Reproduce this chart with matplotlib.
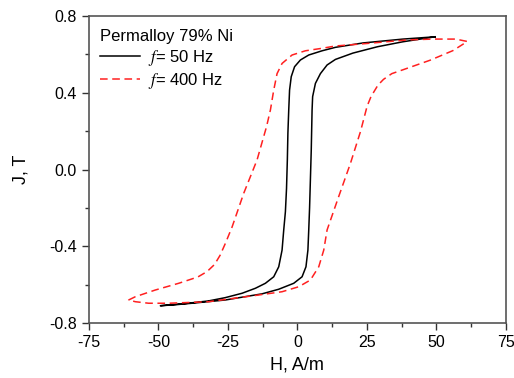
import matplotlib
matplotlib.use("Agg")
import matplotlib.pyplot as plt
from matplotlib.ticker import MultipleLocator, FormatStrFormatter

plt.rcParams['font.family'] = ['Liberation Sans', 'DejaVu Sans']
plt.rcParams['mathtext.fontset'] = 'stix'
plt.rcParams['axes.unicode_minus'] = False

# 50 Hz loop: descending branch (from +Hmax) and ascending branch (from -Hmax)
H50_down = [49.6, 38, 23.7, 13.7, 8.9, 4.1, 1.1, -1.0, -2.2, -2.8, -3.1, -3.4, -3.6, -3.9, -4.3, -4.9,
            -5.5, -6.7, -8.5, -11.5, -15.1, -19.9, -26, -32, -40, -49.3]
J50_down = [0.692, 0.68, 0.66, 0.637, 0.619, 0.597, 0.571, 0.536, 0.484, 0.414, 0.31, 0.19, 0.05, -0.10, -0.22, -0.315,
            -0.42, -0.507, -0.559, -0.593, -0.619, -0.645, -0.668, -0.685, -0.698, -0.71]
H50_up = [-49.3, -44, -37.9, -25.9, -12.7, -6.7, -1.3, 1.7, 3.1, 3.8, 4.1, 4.4, 4.7, 5.0, 5.3, 5.5, 6.5,
          8.3, 10.7, 13.7, 20, 28.8, 38, 49.6]
J50_up = [-0.71, -0.705, -0.697, -0.68, -0.648, -0.624, -0.593, -0.559, -0.507, -0.42, -0.315, -0.20, -0.05, 0.10, 0.31, 0.38, 0.449,
          0.50, 0.545, 0.574, 0.607, 0.64, 0.666, 0.692]

# 400 Hz loop
H400_down = [61, 57, 49, 40, 33.5, 25, 13.7, 8.9, 2.9, -1.9, -5.5, -7.3, -8.5, -9.7, -11.1, -14.5, -19.3,
             -23.5, -25.9, -27.8, -29.8, -32.5, -35.8, -42.7, -51.1, -58.3, -60.7]
J400_down = [0.668, 0.68, 0.68, 0.676, 0.668, 0.657, 0.644, 0.632, 0.619, 0.597, 0.553, 0.50, 0.414, 0.31, 0.223, 0.05, -0.124,
             -0.30, -0.385, -0.447, -0.495, -0.532, -0.56, -0.593, -0.628, -0.663, -0.68]
H400_up = [-60.7, -58.3, -53.5, -46.3, -31.9, -13.9, -5.5, 0.5, 4.7, 7.7, 9.5, 10.7, 14.9, 19.1, 22.7, 25.1,
           26.5, 29, 31, 34, 38, 47.8, 56, 61]
J400_up = [-0.68, -0.689, -0.697, -0.697, -0.689, -0.654, -0.637, -0.611, -0.576, -0.507, -0.42, -0.315, -0.14, 0.032, 0.197, 0.33,
           0.38, 0.44, 0.47, 0.50, 0.52, 0.57, 0.62, 0.666]

fig = plt.figure(figsize=(5.14, 3.78), dpi=100)
ax = fig.add_axes([0.173, 0.1455, 0.811, 0.812])

ax.plot(H50_down + H50_up, J50_down + J50_up, color='black', lw=1.1, label=r'$f$= 50 Hz')
ax.plot(H400_down + H400_up, J400_down + J400_up, color='#ff2020', lw=1.1, dashes=(5, 3),
        label=r'$f$= 400 Hz')

ax.set_xlim(-75, 75)
ax.set_ylim(-0.8, 0.8)
ax.xaxis.set_major_locator(MultipleLocator(25))
ax.xaxis.set_minor_locator(MultipleLocator(12.5))
ax.yaxis.set_major_locator(MultipleLocator(0.4))
ax.yaxis.set_minor_locator(MultipleLocator(0.2))
ax.yaxis.set_major_formatter(FormatStrFormatter('%.1f'))
ax.tick_params(which='both', direction='out', top=False, right=False, labelsize=11.5, color='#333333')
ax.tick_params(which='major', length=5, width=1)
ax.tick_params(which='minor', length=3, width=1)
for s in ax.spines.values():
    s.set_color('#555555')
    s.set_linewidth(1.2)

ax.set_xlabel('H, A/m', fontsize=13, labelpad=5)
ax.set_ylabel('J, T', fontsize=13, labelpad=14)

leg = ax.legend(title='Permalloy 79% Ni', loc='upper left', bbox_to_anchor=(-0.006, 1.0), frameon=False,
                fontsize=12, title_fontsize=12, alignment='left', handlelength=2.4, handletextpad=0.5,
                labelspacing=0.2, borderpad=0.3)

fig.savefig('out.png', dpi=100)
